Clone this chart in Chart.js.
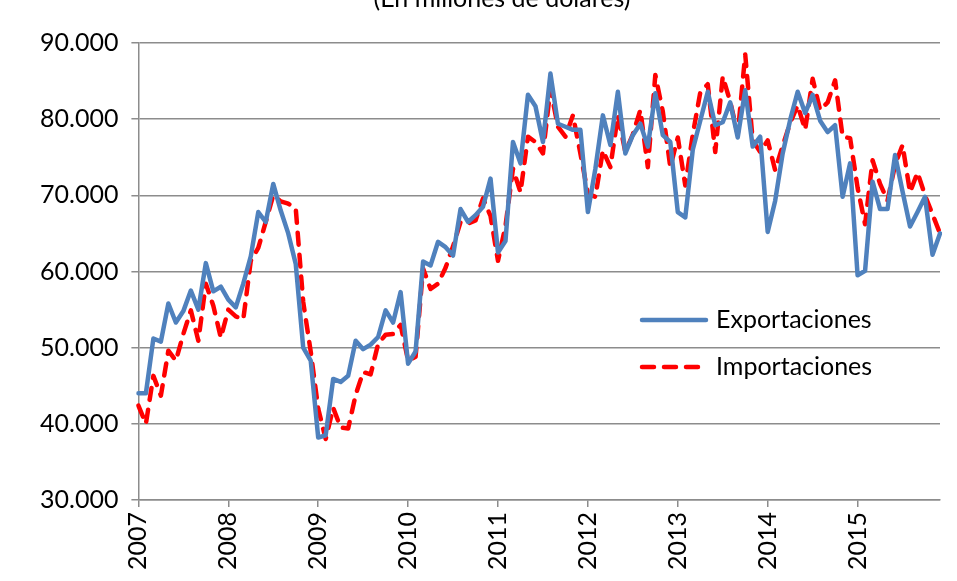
<!DOCTYPE html>
<html lang="es">
<head>
  <meta charset="UTF-8">
  <title>Exportaciones e importaciones</title>
  <script src="https://cdn.jsdelivr.net/npm/chart.js"></script>
  <style>
    body {
      margin: 0;
      background: #fff;
    }

    #grafico {
      display: block;
    }
  </style>
</head>
<body>

  <canvas id="grafico" width="957" height="581"></canvas>

  <script>
    const titulo = '(En millones de dólares)';
    const anios = ['2007', '2008', '2009', '2010', '2011', '2012', '2013', '2014', '2015'];
    const nombresSeries = ['Exportaciones', 'Importaciones'];

    // valores mensuales, enero 2007 a diciembre 2015
    const exportaciones = [
      44000, 44000, 51200, 50800, 55800, 53300, 54800, 57500, 55000, 61100, 57400, 58000,
      56300, 55300, 58400, 62000, 67800, 66500, 71500, 68000, 65000, 61000, 50000, 48300,
      38200, 38500, 45900, 45500, 46300, 50900, 49800, 50400, 51400, 54900, 53300, 57300,
      47900, 49500, 61300, 60800, 63900, 63200, 62100, 68200, 66500, 67400, 68500, 72200,
      62500, 64000, 77000, 74200, 83200, 81700, 77000, 86000, 79400, 79000, 78600, 78600,
      67800, 73500, 80500, 76600, 83600, 75500, 77900, 79400, 76400, 83400, 77900, 77000,
      67800, 67100, 76000, 79800, 83600, 79200, 79600, 82200, 77600, 83800, 76400, 77700,
      65200, 69300, 75500, 79900, 83600, 80800, 83200, 79800, 78300, 79200, 69800, 74200,
      59500, 60100, 71800, 68200, 68200, 75300, 70500, 65900, 67800, 69800, 62200, 65000
    ];

    const importaciones = [
      42400, 40000, 46300, 43700, 49600, 48300, 51800, 54900, 50900, 58400, 55500, 51300,
      55000, 54100, 53700, 61400, 63100, 66500, 70000, 69200, 68900, 68300, 56000, 49500,
      42000, 38000, 42100, 39500, 39400, 43800, 46800, 46500, 50500, 51700, 51800, 53000,
      48300, 48800, 60400, 57700, 58400, 60500, 63300, 66500, 66300, 66700, 69600, 67300,
      61400, 66000, 73500, 70400, 77700, 77000, 75500, 84000, 79000, 77700, 80500, 75500,
      70200, 69800, 75900, 73700, 80500, 75700, 78000, 81200, 73700, 85800, 81000, 73700,
      77600, 71300, 78000, 83500, 84600, 75700, 85600, 82300, 78000, 88500, 77200, 75700,
      77200, 73300, 76500, 79500, 81800, 78600, 85300, 81200, 82200, 85100, 77700, 77500,
      71000, 66200, 74600, 71500, 69300, 74000, 76600, 70400, 73000, 70000, 67500, 65000
    ];

    const ejeY = { min: 30000, max: 90000, paso: 10000 };

    // una categoria por mes
    const meses = anios.flatMap(a => Array.from({ length: 12 }, (_, m) => a + '-' + String(m + 1).padStart(2, '0')));

    const fuente = 'Lato, "Open Sans", sans-serif';
    const gris = '#8c8c8c';

    // titulo (recortado arriba) y leyenda dentro del grafico
    const tituloYLeyenda = {
      id: 'tituloYLeyenda',
      afterDraw(chart) {
        const ctx = chart.ctx;
        ctx.save();
        ctx.fillStyle = '#000';
        ctx.font = '25px ' + fuente;
        ctx.textAlign = 'center';
        ctx.textBaseline = 'alphabetic';
        ctx.fillText(titulo, 502, 7);

        chart.data.datasets.forEach((ds, i) => {
          const y = 320 + i * 47;
          ctx.beginPath();
          ctx.strokeStyle = ds.borderColor;
          ctx.lineWidth = ds.borderWidth;
          ctx.lineCap = ds.borderCapStyle;
          ctx.setLineDash(ds.borderDash || []);
          ctx.moveTo(642, y);
          ctx.lineTo(706, y);
          ctx.stroke();
          ctx.setLineDash([]);
          ctx.textAlign = 'left';
          ctx.textBaseline = 'middle';
          ctx.fillText(ds.label, 716, y);
        });
        ctx.restore();
      }
    };

    new Chart(document.getElementById('grafico'), {
      type: 'line',
      data: {
        labels: meses,
        datasets: [
          {
            label: nombresSeries[0],
            data: exportaciones,
            borderColor: '#4f81bd',
            borderWidth: 4.5,
            borderCapStyle: 'round',
            borderJoinStyle: 'round',
            pointRadius: 0,
            tension: 0
          },
          {
            label: nombresSeries[1],
            data: importaciones,
            borderColor: '#ff0000',
            borderWidth: 4.5,
            borderDash: [12, 10],
            borderCapStyle: 'round',
            borderJoinStyle: 'round',
            pointRadius: 0,
            tension: 0
          }
        ]
      },
      options: {
        responsive: false,
        animation: false,
        layout: {
          padding: { top: 43, left: 27, right: 17, bottom: 6 }
        },
        plugins: {
          legend: { display: false },
          title: { display: false },
          tooltip: { enabled: false }
        },
        scales: {
          x: {
            type: 'category',
            offset: false,
            // el ultimo mes no lleva etiqueta, no hace falta reservar margen
            afterFit: s => { s.paddingRight = 0; },
            grid: {
              drawOnChartArea: false,
              tickLength: 7,
              lineWidth: 1.5,
              color: c => (c.index % 12 === 0 ? gris : 'rgba(0,0,0,0)')
            },
            border: { color: gris, width: 1.5 },
            ticks: {
              autoSkip: false,
              minRotation: 90,
              maxRotation: 90,
              padding: 5,
              color: '#000',
              font: { family: fuente, size: 25 },
              callback: (v, i) => (i % 12 === 0 ? anios[i / 12] : '')
            }
          },
          y: {
            min: ejeY.min,
            max: ejeY.max,
            grid: {
              color: gris,
              lineWidth: 1.5,
              tickLength: 7
            },
            border: { color: gris, width: 1.5 },
            ticks: {
              stepSize: ejeY.paso,
              padding: 13,
              color: '#000',
              font: { family: fuente, size: 25 },
              callback: v => (v / 1000).toFixed(0) + '.000'
            }
          }
        }
      },
      plugins: [tituloYLeyenda]
    });
  </script>

</body>
</html>
